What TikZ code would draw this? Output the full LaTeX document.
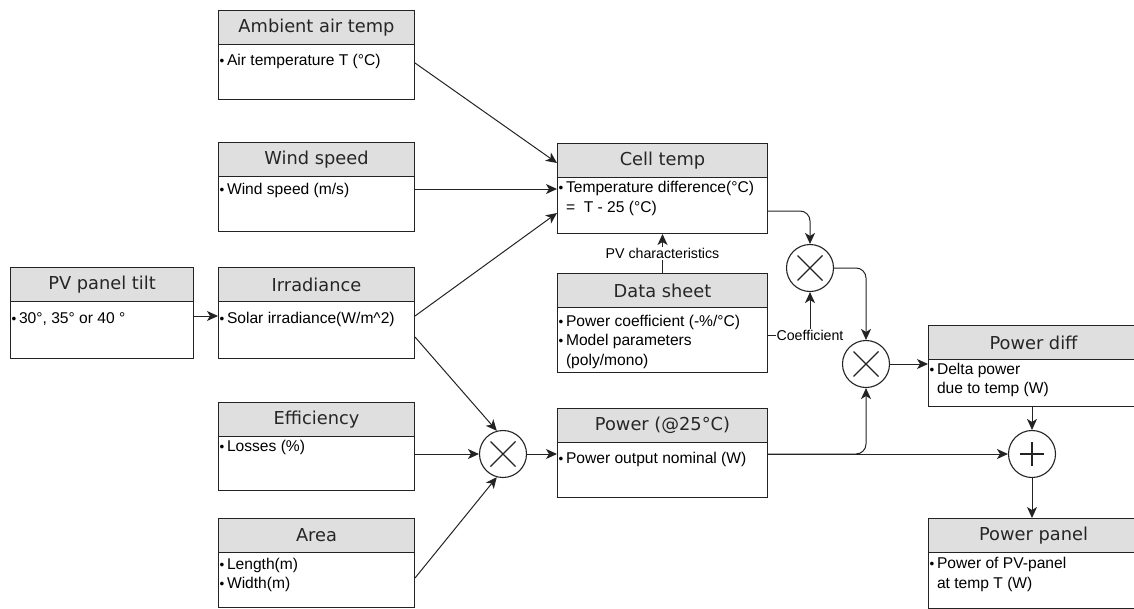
\documentclass[tikz,border=0pt]{standalone}
\usepackage{fontspec}
\setmainfont{Liberation Sans}
\newfontfamily\hdrfont{DejaVu Sans}
\usetikzlibrary{arrows.meta,calc}
\definecolor{hdrgray}{RGB}{223,223,223}
\definecolor{linegray}{RGB}{35,35,35}
\tikzset{
 boxst/.style={draw=linegray, line width=1pt, fill=white, inner sep=0pt, anchor=north west},
 hdrst/.style={draw=linegray, line width=1pt, fill=hdrgray, inner sep=0pt, anchor=north west, minimum height=34pt, font=\hdrfont\fontsize{17.8}{20}\selectfont, text=black!85},
 bodyst/.style={inner sep=0pt, anchor=north west, align=left, font=\fontsize{15.6}{19.5}\selectfont},
 opst/.style={circle, draw=linegray, line width=1.1pt, fill=white, minimum size=47pt, inner sep=0pt},
 symst/.style={draw=linegray, line width=1.1pt},
 conn/.style={draw=linegray, line width=1pt, -{Stealth[length=11pt,width=10pt,inset=3pt]}},
 lbl/.style={fill=white, inner sep=1pt, font=\fontsize{14.2}{16}\selectfont},
}
% #1 name, #2 x, #3 y, #4 w, #5 h, #6 title, #7 body top offset, #8 body
\newcommand\pvbox[8]{%
 \node[boxst, minimum width=#4pt, minimum height=#5pt] (#1) at (#2,#3) {};
 \node[hdrst, minimum width=#4pt] (#1-h) at (#1.north west) {#6};
 \node[bodyst] (#1-b) at ($(#1.north west)+(1.5,#7)$) {#8};
}
\newcommand\bul{\strut{\fontsize{13.5}{12}\selectfont\textbullet}\,}
\newcommand\ind{\strut\hphantom{{\fontsize{13.5}{12}\selectfont\textbullet}\,}}
\begin{document}
\begin{tikzpicture}[x=1pt,y=-1pt]
\useasboundingbox (0,0) rectangle (1134,608);
\clip (0,0) rectangle (1134,608);

\pvbox{amb}{218}{10}{196}{89}{Ambient air temp}{41.5}{\bul Air temperature T (°C)}
\pvbox{wind}{218}{142}{196}{89}{Wind speed}{38.5}{\bul Wind speed (m/s)}
\pvbox{pv}{10}{267}{183}{91}{PV panel tilt}{42.5}{\bul 30°, 35° or 40 °}
\pvbox{irr}{218}{267}{196}{91}{Irradiance}{42.5}{\bul Solar irradiance(W/m\^{}2)}
\pvbox{eff}{218}{402}{196}{88}{Efficiency}{35.5}{\bul Losses (\%)}
\pvbox{area}{218}{518}{196}{89}{Area}{37.5}{\bul Length(m)\\\bul Width(m)}
\pvbox{cell}{557}{143}{210}{90}{Cell temp}{36}{\bul Temperature difference(°C)\\\ind =~~T - 25 (°C)}
\pvbox{data}{557}{273}{210}{99}{Data sheet}{39.5}{\bul Power coefficient (-\%/°C)\\\bul Model parameters\\\ind (poly/mono)}
\pvbox{power}{557}{408}{210}{89}{Power (@25°C)}{41.5}{\bul Power output nominal (W)}
\pvbox{pdiff}{928}{325}{210}{81}{Power diff}{35.5}{\bul Delta power\\\ind due to temp (W)}
\pvbox{ppanel}{928}{518}{210}{90}{Power panel}{37}{\bul Power of PV-panel\\\ind at temp T (W)}

% operators
\node[opst] (m1) at (810,268) {};
\node[opst] (m2) at (866,364) {};
\node[opst] (m3) at (503,454) {};
\node[opst] (plus) at (1032,454) {};
\foreach \n in {m1,m2,m3}{
 \draw[symst] (\n.center) +(-12.5,-12.5) -- +(12.5,12.5);
 \draw[symst] (\n.center) +(-12.5,12.5) -- +(12.5,-12.5);
}
\draw[symst] (plus.center) +(-12,0) -- +(12,0);
\draw[symst] (plus.center) +(0,-12) -- +(0,12);

% connectors
\draw[conn] ($(amb.north east)+(0,53)$) -- ($(cell.north west)+(0,20)$);
\draw[conn] ($(wind.north east)+(0,47)$) -- ($(cell.north west)+(0,46)$);
\draw[conn] ($(irr.north east)+(0,49)$) -- ($(cell.north west)+(0,70)$);
\draw[conn] ($(irr.north east)+(0,70)$) -- (m3.105);
\draw[conn] ($(pv.north east)+(0,49)$) -- ($(irr.north west)+(0,49)$);
\draw[conn] (m3.west -| eff.east) -- (m3.west);
\draw[conn] ($(area.north east)+(0,60)$) -- (m3.-105);
\draw[conn] (m3.east) -- (m3.east -| power.west);
\draw[conn, rounded corners=10pt] ($(cell.north east)+(0,68)$) -| (m1.north);
\draw[conn] (data.north) -- (cell.south) node[lbl, midway] (lpv) {PV characteristics};
\draw[conn] ($(data.north east)+(0,62)$) -| (m1.south) node[lbl, pos=0.5] (lco) {Coefficient};
\draw[conn, rounded corners=10pt] (m1.east) -| (m2.north);
\draw[conn] (m2.east) -- (m2.east -| pdiff.west);
\draw[conn] (plus.west -| power.east) -- (plus.west);
\draw[conn, rounded corners=10pt] (plus.west -| power.east) -| (m2.south);
\draw[conn] (pdiff.south -| plus.north) -- (plus.north);
\draw[conn] (plus.south) -- (plus.south |- ppanel.north);
\end{tikzpicture}
\end{document}
